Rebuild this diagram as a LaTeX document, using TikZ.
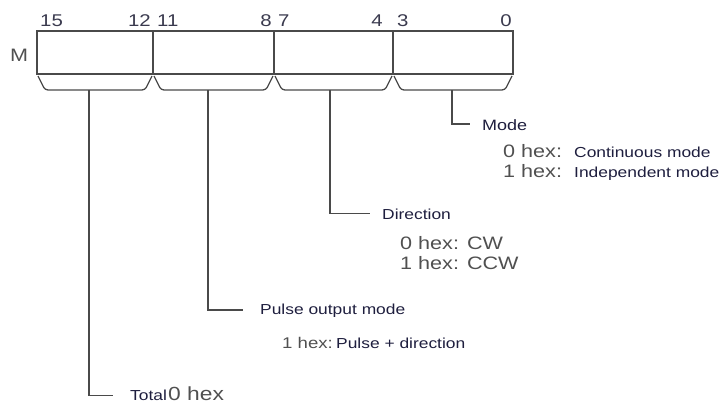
\documentclass[tikz,border=0pt]{standalone}
\usepackage{fontspec}
\setmainfont[FakeStretch=1.2]{Liberation Sans}
\definecolor{ln}{HTML}{4A4A4A}
\definecolor{navy}{HTML}{1E1E3E}
\definecolor{hexg}{HTML}{505050}
\definecolor{bitc}{HTML}{3A3A4E}
\begin{document}
\begin{tikzpicture}[x=1pt,y=-1pt,
  conn/.style={draw=ln, line width=1.3pt},
  desc/.style={anchor=base west, inner sep=0pt, text=navy, font=\fontsize{14.5}{17}\selectfont},
  hexs/.style={anchor=base west, inner sep=0pt, text=hexg, font=\fontsize{18}{20}\selectfont},
  bitw/.style={anchor=base west, inner sep=0pt, text=bitc, font=\fontsize{17}{19}\selectfont},
  bite/.style={anchor=base east, inner sep=0pt, text=bitc, font=\fontsize{17}{19}\selectfont},
  bracepath/.style={draw=ln, line width=1.3pt, rounded corners=3pt}]
\useasboundingbox (0,0) rectangle (719,410);

% register box
\draw[conn] (37,31) rectangle (513,74);
\foreach \x in {153,274,393} \draw[conn] (\x,31) -- (\x,74);
\node[inner sep=0pt, text=hexg, font=\fontsize{18}{20}\selectfont] (M) at (19,55.5) {M};

% bit numbers
\node[bitw] (b15) at (40,26.5) {15};
\node[bite] (b12) at (151,26.5) {12};
\node[bitw] (b11) at (157,26.5) {11};
\node[bite] (b8) at (272,26.5) {8};
\node[bitw] (b7) at (278,26.5) {7};
\node[bite] (b4) at (383,26.5) {4};
\node[bitw] (b3) at (397,26.5) {3};
\node[bite] (b0) at (512,26.5) {0};

% braces
\foreach \a/\b in {37/153,153/274,274/393,393/513}
  \draw[bracepath] (\a+1,76) -- (\a+8,90) -- (\b-8,90) -- (\b-1,76);

\coordinate (s1) at (89,90);
\coordinate (s2) at (208,90);
\coordinate (s3) at (330,90);
\coordinate (s4) at (452,90);

% Mode
\node[desc, font=\fontsize{15}{17}\selectfont] (mode) at (482,130) {Mode};
\node[hexs] (m0) at (503,157.5) {0 hex:};
\node[desc] (m0t) at (574,157) {Continuous mode};
\node[hexs] (m1) at (503,177.5) {1 hex:};
\node[desc] (m1t) at (574,177) {Independent mode};
\coordinate (e4) at (470,124);
\draw[conn] (s4) |- (e4);

% Direction
\node[desc] (dir) at (382,219.5) {Direction};
\node[hexs] (d0) at (400,249) {0 hex: CW};
\node[hexs] (d1) at (400,269.5) {1 hex: CCW};
\coordinate (e3) at (370,213.5);
\draw[conn] (s3) |- (e3);

% Pulse output mode
\node[desc] (pom) at (260,314) {Pulse output mode};
\node[hexs, font=\fontsize{15.5}{18}\selectfont] (p1) at (282,348.5) {1 hex:};
\node[desc] (p1t) at (336,348.5) {Pulse + direction};
\coordinate (e2) at (243,310);
\draw[conn] (s2) |- (e2);

% Total
\node[desc] (tot) at (130,400) {Total};
\node[hexs, font=\fontsize{19}{21}\selectfont] (t0) at (168,400.5) {0 hex};
\coordinate (e1) at (113,395.5);
\draw[conn] (s1) |- (e1);
\end{tikzpicture}
\end{document}
